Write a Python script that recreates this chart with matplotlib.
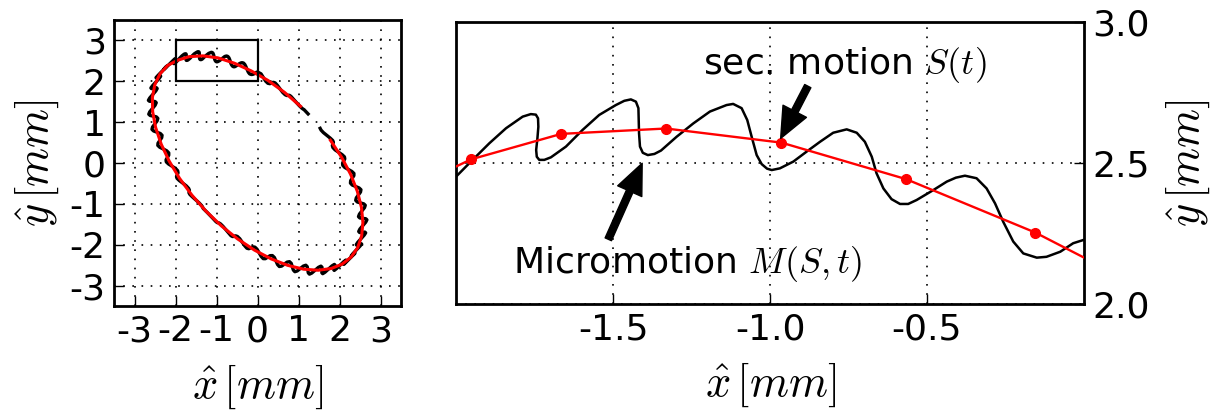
import numpy as np
import matplotlib.pyplot as plt
from matplotlib.patches import Rectangle

plt.rcParams['mathtext.fontset'] = 'cm'
plt.rcParams['axes.unicode_minus'] = False
plt.rcParams['font.family'] = ['DejaVu Sans']

# secular motion S(t), sampled once per RF period (red dots)
sec_x = [1.049, 0.661, 0.255, -0.155, -0.567, -0.964, -1.332, -1.666, -1.953,
         -2.196, -2.381, -2.505, -2.565, -2.558, -2.486, -2.350, -2.153, -1.901,
         -1.600, -1.258, -0.883, -0.486, -0.076, 0.335, 0.739, 1.123, 1.478,
         1.795, 2.066, 2.284, 2.443, 2.539, 2.570, 2.535, 2.434, 2.271, 2.050, 1.776]
sec_y = [1.387, 1.726, 2.020, 2.254, 2.443, 2.572, 2.622, 2.603, 2.513,
         2.385, 2.179, 1.917, 1.605, 1.253, 0.868, 0.460, 0.041, -0.379,
         -0.789, -1.179, -1.539, -1.859, -2.132, -2.349, -2.506, -2.599, -2.625,
         -2.583, -2.474, -2.302, -2.071, -1.787, -1.456, -1.089, -0.693, -0.279, 0.142, 0.559]

# trajectory with micromotion (black), in three pieces
traj_upper_right = [
    (1.233, 1.201), (1.176, 1.262), (1.145, 1.297), (1.131, 1.309), (1.113, 1.317),
    (1.076, 1.346), (1.016, 1.404), (0.942, 1.487), (0.869, 1.571), (0.813, 1.632),
    (0.775, 1.658), (0.747, 1.656), (0.716, 1.650), (0.673, 1.670), (0.614, 1.727),
    (0.547, 1.814), (0.483, 1.901), (0.429, 1.960), (0.384, 1.976), (0.344, 1.960),
    (0.301, 1.940), (0.251, 1.951), (0.196, 2.005), (0.139, 2.094), (0.085, 2.182)]

traj_box = [
    (0.000, 2.228), (-0.034, 2.216), (-0.075, 2.186), (-0.119, 2.168), (-0.150, 2.165),
    (-0.193, 2.180), (-0.225, 2.222), (-0.257, 2.292), (-0.283, 2.357), (-0.310, 2.410),
    (-0.342, 2.446), (-0.379, 2.455), (-0.408, 2.448), (-0.437, 2.434), (-0.480, 2.404),
    (-0.533, 2.369), (-0.560, 2.355), (-0.586, 2.355), (-0.613, 2.372), (-0.639, 2.410),
    (-0.661, 2.464), (-0.676, 2.522), (-0.698, 2.575), (-0.724, 2.607), (-0.756, 2.619),
    (-0.799, 2.607), (-0.841, 2.575), (-0.884, 2.540), (-0.926, 2.505), (-0.969, 2.481),
    (-0.995, 2.475), (-1.010, 2.480), (-1.027, 2.496), (-1.043, 2.528), (-1.059, 2.593),
    (-1.073, 2.652), (-1.091, 2.694), (-1.118, 2.709), (-1.139, 2.705), (-1.192, 2.682),
    (-1.245, 2.640), (-1.298, 2.593), (-1.348, 2.544), (-1.369, 2.532), (-1.390, 2.528),
    (-1.406, 2.536), (-1.415, 2.558), (-1.418, 2.605), (-1.419, 2.652), (-1.420, 2.694),
    (-1.428, 2.717), (-1.444, 2.725), (-1.465, 2.720), (-1.492, 2.705), (-1.545, 2.670),
    (-1.598, 2.617), (-1.651, 2.558), (-1.699, 2.520), (-1.720, 2.511), (-1.736, 2.511),
    (-1.744, 2.522), (-1.746, 2.546), (-1.742, 2.587), (-1.739, 2.628), (-1.740, 2.658),
    (-1.747, 2.671), (-1.763, 2.673), (-1.789, 2.664), (-1.842, 2.623), (-1.895, 2.570),
    (-1.954, 2.505), (-2.002, 2.451)]

traj_rest = [
    (-2.038, 2.430), (-2.049, 2.443), (-2.028, 2.495), (-2.003, 2.544), (-2.011, 2.554),
    (-2.062, 2.507), (-2.148, 2.422), (-2.234, 2.336), (-2.287, 2.289), (-2.289, 2.292),
    (-2.254, 2.333), (-2.217, 2.370), (-2.214, 2.369), (-2.261, 2.316), (-2.346, 2.229),
    (-2.430, 2.141), (-2.477, 2.088), (-2.469, 2.083), (-2.422, 2.110), (-2.373, 2.134),
    (-2.362, 2.124), (-2.403, 2.066), (-2.484, 1.978), (-2.563, 1.890), (-2.603, 1.835),
    (-2.587, 1.820), (-2.529, 1.833), (-2.468, 1.843), (-2.448, 1.823), (-2.482, 1.763),
    (-2.557, 1.677), (-2.630, 1.591), (-2.663, 1.533), (-2.636, 1.510), (-2.569, 1.509),
    (-2.500, 1.505), (-2.471, 1.476), (-2.498, 1.414), (-2.565, 1.332), (-2.630, 1.252),
    (-2.654, 1.194), (-2.619, 1.162), (-2.544, 1.147), (-2.468, 1.129), (-2.432, 1.091),
    (-2.450, 1.030), (-2.507, 0.954), (-2.562, 0.880), (-2.576, 0.822), (-2.535, 0.783),
    (-2.454, 0.754), (-2.372, 0.722), (-2.329, 0.678), (-2.338, 0.618), (-2.384, 0.550),
    (-2.428, 0.485), (-2.433, 0.430), (-2.385, 0.384), (-2.300, 0.343), (-2.215, 0.298),
    (-2.166, 0.247), (-2.166, 0.191), (-2.201, 0.133), (-2.232, 0.078), (-2.227, 0.027),
    (-2.173, -0.024), (-2.087, -0.078), (-2.000, -0.134), (-1.948, -0.190), (-1.939, -0.242),
    (-1.960, -0.288), (-1.978, -0.331), (-1.964, -0.377), (-1.906, -0.432), (-1.820, -0.496),
    (-1.735, -0.563), (-1.680, -0.623), (-1.661, -0.668), (-1.669, -0.701), (-1.673, -0.731),
    (-1.649, -0.772), (-1.590, -0.829), (-1.507, -0.902), (-1.425, -0.977), (-1.368, -1.038),
    (-1.341, -1.077), (-1.335, -1.097), (-1.325, -1.114), (-1.293, -1.147), (-1.233, -1.205),
    (-1.155, -1.285), (-1.079, -1.366), (-1.022, -1.428), (-0.987, -1.458), (-0.967, -1.464),
    (-0.943, -1.466), (-0.903, -1.491), (-0.844, -1.549), (-0.773, -1.634), (-0.704, -1.720),
    (-0.648, -1.780), (-0.607, -1.802), (-0.574, -1.794), (-0.538, -1.782), (-0.491, -1.798),
    (-0.433, -1.854), (-0.371, -1.941), (-0.311, -2.029), (-0.259, -2.087), (-0.212, -2.099),
    (-0.166, -2.077), (-0.118, -2.052), (-0.065, -2.059), (-0.012, -2.111), (0.040, -2.199),
    (0.089, -2.287), (0.138, -2.341), (0.189, -2.343), (0.246, -2.307), (0.306, -2.268),
    (0.362, -2.266), (0.411, -2.313), (0.451, -2.400), (0.488, -2.486), (0.531, -2.534),
    (0.586, -2.525), (0.652, -2.477), (0.720, -2.426), (0.780, -2.415), (0.822, -2.456),
    (0.849, -2.539), (0.873, -2.620), (0.910, -2.661), (0.967, -2.643), (1.041, -2.584),
    (1.117, -2.523), (1.178, -2.502), (1.212, -2.537), (1.226, -2.613), (1.237, -2.688),
    (1.266, -2.721), (1.323, -2.694), (1.403, -2.625), (1.485, -2.554), (1.546, -2.524),
    (1.572, -2.551), (1.572, -2.619), (1.568, -2.686), (1.589, -2.710), (1.645, -2.674),
    (1.730, -2.597), (1.815, -2.519), (1.874, -2.482), (1.891, -2.500), (1.877, -2.559),
    (1.859, -2.615), (1.871, -2.629), (1.925, -2.586), (2.011, -2.503), (2.098, -2.419),
    (2.153, -2.376), (2.160, -2.385), (2.133, -2.432), (2.103, -2.477), (2.106, -2.482),
    (2.155, -2.432), (2.241, -2.345), (2.327, -2.258), (2.377, -2.209), (2.375, -2.208),
    (2.335, -2.243), (2.292, -2.274), (2.286, -2.269), (2.330, -2.214), (2.413, -2.126),
    (2.496, -2.038), (2.540, -1.985), (2.528, -1.975), (2.476, -1.996), (2.422, -2.014),
    (2.407, -1.999), (2.445, -1.941), (2.524, -1.853), (2.601, -1.766), (2.638, -1.709),
    (2.617, -1.691), (2.555, -1.698), (2.490, -1.702), (2.467, -1.677), (2.497, -1.616),
    (2.569, -1.532), (2.639, -1.448), (2.668, -1.390), (2.638, -1.363), (2.567, -1.356),
    (2.494, -1.346), (2.462, -1.313), (2.485, -1.251), (2.548, -1.171), (2.609, -1.093),
    (2.628, -1.035), (2.591, -1.000), (2.513, -0.979), (2.433, -0.955), (2.394, -0.914),
    (2.409, -0.853), (2.462, -0.781), (2.512, -0.710), (2.522, -0.653), (2.477, -0.611),
    (2.394, -0.577), (2.310, -0.540), (2.266, -0.492), (2.271, -0.433), (2.312, -0.370),
    (2.350, -0.309), (2.351, -0.255), (2.300, -0.207), (2.214, -0.160), (2.128, -0.110),
    (2.078, -0.057), (2.074, -0.003), (2.103, 0.050), (2.128, 0.100), (2.120, 0.150),
    (2.064, 0.203), (1.977, 0.261), (1.891, 0.321), (1.837, 0.379), (1.824, 0.428),
    (1.839, 0.469), (1.851, 0.507), (1.833, 0.551), (1.775, 0.607), (1.690, 0.675),
    (1.605, 0.745), (1.549, 0.805), (1.527, 0.848)]

ticks_left = [-3, -2, -1, 0, 1, 2, 3]
ticks_right_x = [-1.5, -1.0, -0.5]
ticks_right_y = [2.0, 2.5, 3.0]

traj = np.array(traj_upper_right + traj_box + traj_rest)

fs = 26
fs_label = 32
grid_style = dict(color='k', linestyle=(0, (1, 4.5)), linewidth=1.2)

fig = plt.figure(figsize=(12.16, 4.17), dpi=100)
ax1 = fig.add_axes([0.0938, 0.2662, 0.2360, 0.6859])
ax2 = fig.add_axes([0.3754, 0.2703, 0.5159, 0.6777])

# left: whole orbit
ax1.plot(traj[:, 0], traj[:, 1], color='k', lw=2.4, zorder=2)
ax1.plot(sec_x, sec_y, color='r', lw=2.2, zorder=3)
ax1.add_patch(Rectangle((-2, 2), 2, 1, fill=False, ec='k', lw=1.6, zorder=4))
ax1.set_xlim(-3.5, 3.5)
ax1.set_ylim(-3.5, 3.5)
ax1.set_xticks(ticks_left)
ax1.set_yticks(ticks_left)
ax1.grid(True, **grid_style)
ax1.tick_params(direction='in', length=7, width=1, labelsize=fs, pad=6)
ax1.set_xlabel(r'$\hat{x}\,[mm]$', fontsize=fs_label, labelpad=10)
ax1.set_ylabel(r'$\hat{y}\,[mm]$', fontsize=fs_label, labelpad=6)

# right: zoom into the box
ax2.plot(traj[:, 0], traj[:, 1], color='k', lw=1.8, zorder=2)
ax2.plot(sec_x, sec_y, color='r', lw=1.7, marker='o', ms=7, zorder=3)
ax2.set_xlim(-2, 0)
ax2.set_ylim(2, 3)
ax2.set_xticks(ticks_right_x)
ax2.set_yticks(ticks_right_y)
ax2.yaxis.tick_right()
ax2.yaxis.set_label_position('right')
ax2.grid(True, **grid_style)
ax2.tick_params(direction='in', length=7, width=1, labelsize=fs, pad=6)
ax2.set_xlabel(r'$\hat{x}\,[mm]$', fontsize=fs_label, labelpad=10)
ax2.set_ylabel(r'$\hat{y}\,[mm]$', fontsize=fs_label, labelpad=10)

arrow = dict(facecolor='k', edgecolor='k', width=5, headwidth=19, headlength=22, shrink=0)
ax2.annotate('', xy=(-0.9665, 2.587), xytext=(-0.880, 2.772), arrowprops=arrow)
ax2.annotate('', xy=(-1.408, 2.499), xytext=(-1.516, 2.230), arrowprops=arrow)
ax2.text(-1.214, 2.815, 'sec. motion $S(t)$', fontsize=fs, va='baseline')
ax2.text(-1.821, 2.112, 'Micromotion $M(S,t)$', fontsize=fs, va='baseline')

for ax in (ax1, ax2):
    for s in ax.spines.values():
        s.set_linewidth(2)

fig.savefig('out.png', dpi=100)
